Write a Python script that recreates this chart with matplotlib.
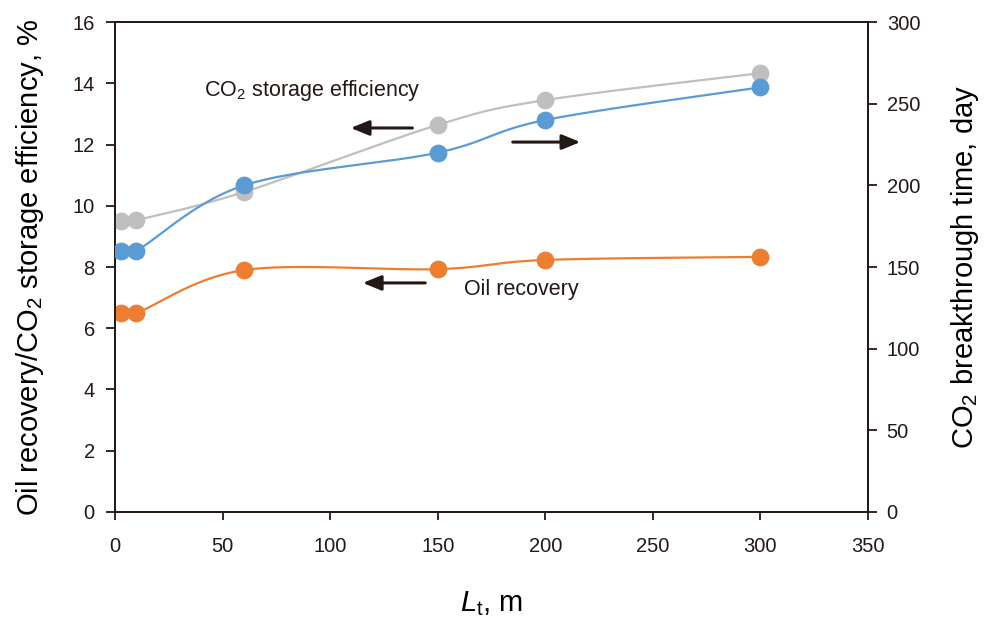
import numpy as np
import matplotlib
matplotlib.use("Agg")
import matplotlib.pyplot as plt

plt.rcParams['font.family'] = ['Liberation Sans', 'DejaVu Sans']
plt.rcParams['mathtext.fontset'] = 'custom'
plt.rcParams['mathtext.rm'] = 'Liberation Sans'
plt.rcParams['mathtext.it'] = 'Liberation Sans:italic'

# Data
lt = [3, 10, 60, 150, 200, 300]
storage_eff = [9.5, 9.53, 10.45, 12.64, 13.45, 14.33]
oil_recovery = [6.5, 6.5, 7.9, 7.93, 8.23, 8.33]
breakthrough = [160, 160, 200, 220, 240, 260]

x_ticks = [0, 50, 100, 150, 200, 250, 300, 350]
yl_ticks = [0, 2, 4, 6, 8, 10, 12, 14, 16]
yr_ticks = [0, 50, 100, 150, 200, 250, 300]

GRAY = '#BFBFBF'
BLUE = '#5B9BD5'
ORANGE = '#ED7D31'
INK = '#231815'


def smooth(x, y, xr, yr, n=40):
    # Excel-like Bezier smoothing in normalized coordinates
    px = np.asarray(x, float) / xr
    py = np.asarray(y, float) / yr
    pts = np.column_stack([px, py])
    out = []
    m = len(pts)
    for i in range(m - 1):
        p0 = pts[i - 1] if i > 0 else pts[i]
        p1 = pts[i]
        p2 = pts[i + 1]
        p3 = pts[i + 2] if i + 2 < m else pts[i + 1]
        c1 = p1 + (p2 - p0) / 6
        c2 = p2 - (p3 - p1) / 6
        t = np.linspace(0, 1, n)[:, None]
        seg = ((1 - t) ** 3) * p1 + 3 * ((1 - t) ** 2) * t * c1 + 3 * (1 - t) * t ** 2 * c2 + t ** 3 * p2
        out.append(seg if i == 0 else seg[1:])
    s = np.vstack(out)
    return s[:, 0] * xr, s[:, 1] * yr


fig = plt.figure(figsize=(9.87, 6.17), dpi=100)
ax = fig.add_axes([0.1165, 0.1702, 0.7629, 0.7941])
ax2 = ax.twinx()

ax.set_xlim(0, 350)
ax.set_ylim(0, 16)
ax2.set_ylim(0, 300)

lw = 1.6
ms = 11.8
sx, sy = smooth(lt, storage_eff, 350, 16)
ax.plot(sx, sy, color=GRAY, lw=lw, zorder=2)
ax.plot(lt, storage_eff, 'o', color=GRAY, ms=ms, zorder=3)

ox, oy = smooth(lt, oil_recovery, 350, 16)
ax.plot(ox, oy, color=ORANGE, lw=lw, zorder=2)
ax.plot(lt, oil_recovery, 'o', color=ORANGE, ms=ms, zorder=3)

bx, by = smooth(lt, breakthrough, 350, 300)
ax2.plot(bx, by, color=BLUE, lw=lw, zorder=2)
ax2.plot(lt, breakthrough, 'o', color=BLUE, ms=ms, zorder=3)

for a in (ax, ax2):
    for s in a.spines.values():
        s.set_linewidth(1.3)
        s.set_color(INK)

ax.set_xticks(x_ticks)
ax.set_yticks(yl_ticks)
ax2.set_yticks(yr_ticks)
ax.tick_params(axis='y', direction='out', length=6.5, width=1.3, labelsize=14.5, colors=INK, pad=8)
ax.tick_params(axis='x', direction='out', length=6, width=1.3, labelsize=14.5, colors=INK, pad=12)
ax2.tick_params(axis='y', direction='out', length=6.5, width=1.3, labelsize=14.5, colors=INK, pad=7)

ax.set_ylabel('Oil recovery/CO$_2$ storage efficiency, %', fontsize=21, labelpad=19)
ax2.set_ylabel('CO$_2$ breakthrough time, day', fontsize=21, labelpad=21)
ax.set_xlabel('$\\it{L}_{\\rm{t}}$, m', fontsize=21, labelpad=24)

ax.text(91.6, 13.78, 'CO$_2$ storage efficiency', fontsize=15.5, ha='center', va='center', color=INK)
ax.text(188.8, 7.25, 'Oil recovery', fontsize=15.5, ha='center', va='center', color=INK)

arrow = dict(arrowstyle='-|>,head_length=1.1,head_width=0.45', color=INK, lw=2.2)
ax.annotate('', xy=(108.3, 12.54), xytext=(139.5, 12.54), arrowprops=arrow)
ax.annotate('', xy=(113.9, 7.48), xytext=(145.5, 7.48), arrowprops=arrow)
ax.annotate('', xy=(217.6, 12.08), xytext=(183.6, 12.08), arrowprops=arrow)

fig.savefig('out.png', dpi=100)
